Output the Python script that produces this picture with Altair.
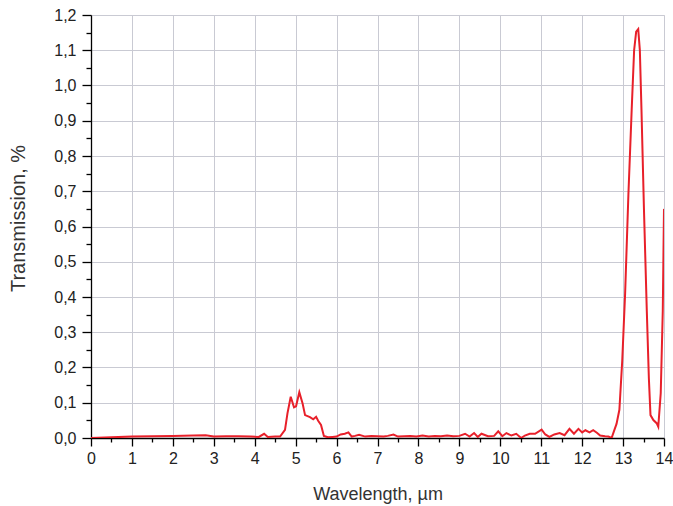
import altair as alt
import pandas as pd

wavelength = [0.0, 0.5, 1.0, 1.5, 2.0, 2.5, 2.8, 3.0, 3.3, 3.6, 3.9, 4.1, 4.23, 4.32, 4.5,
              4.62, 4.74, 4.80, 4.88, 4.96, 5.01, 5.09, 5.17, 5.23, 5.35, 5.43, 5.50, 5.55,
              5.62, 5.69, 5.79, 5.9, 6.0, 6.1, 6.2, 6.29, 6.37, 6.45, 6.55, 6.7, 6.85, 7.0,
              7.15, 7.25, 7.39, 7.5, 7.65, 7.8, 7.95, 8.1, 8.25, 8.4, 8.55, 8.7, 8.85, 9.0,
              9.14, 9.25, 9.36, 9.45, 9.54, 9.7, 9.85, 9.95, 10.05, 10.15, 10.27, 10.39,
              10.51, 10.6, 10.72, 10.85, 11.01, 11.1, 11.2, 11.32, 11.45, 11.57, 11.69,
              11.8, 11.91, 12.0, 12.08, 12.18, 12.27, 12.36, 12.44, 12.56, 12.64, 12.72,
              12.78, 12.84, 12.91, 12.98, 13.05, 13.13, 13.21, 13.27, 13.32, 13.37, 13.41,
              13.45, 13.51, 13.58, 13.63, 13.67, 13.74, 13.82, 13.86, 13.92, 13.97, 14.0]
transmission = [0.0, 0.002, 0.004, 0.005, 0.006, 0.007, 0.008, 0.004, 0.005, 0.005, 0.004,
                0.003, 0.012, 0.003, 0.004, 0.004, 0.023, 0.07, 0.117, 0.087, 0.09, 0.13,
                0.098, 0.065, 0.059, 0.053, 0.06, 0.049, 0.037, 0.006, 0.002, 0.003, 0.004,
                0.01, 0.012, 0.016, 0.004, 0.006, 0.009, 0.004, 0.006, 0.005, 0.004, 0.006,
                0.01, 0.004, 0.005, 0.006, 0.004, 0.007, 0.004, 0.006, 0.005, 0.007, 0.005,
                0.006, 0.012, 0.004, 0.014, 0.003, 0.012, 0.005, 0.006, 0.019, 0.005, 0.014,
                0.007, 0.012, 0.0, 0.007, 0.012, 0.012, 0.024, 0.01, 0.003, 0.01, 0.014,
                0.008, 0.026, 0.012, 0.026, 0.016, 0.022, 0.016, 0.022, 0.015, 0.007, 0.005,
                0.004, 0.0, 0.02, 0.04, 0.08, 0.22, 0.41, 0.69, 0.93, 1.10, 1.153, 1.16, 1.10,
                0.93, 0.65, 0.36, 0.17, 0.065, 0.051, 0.042, 0.032, 0.127, 0.36, 0.65]

x_ticks = [i * 0.5 for i in range(29)]
y_ticks = [round(i * 0.05, 2) for i in range(25)]

df = pd.DataFrame({"wl": wavelength, "t": transmission})

font = "Liberation Sans"
y_major = "abs(datum.value*10 - round(datum.value*10)) < 1e-6"

x_axis = alt.Axis(
    values=x_ticks,
    title="Wavelength, µm",
    labelExpr="datum.value % 1 === 0 ? format(datum.value, 'd') : ''",
    tickSize={"condition": {"test": "datum.value % 1 === 0", "value": 8}, "value": 4},
    gridOpacity={"condition": {"test": "datum.value % 1 === 0", "value": 1}, "value": 0},
    grid=True, gridColor="#c9cad3", gridWidth=1,
    domainColor="black", domainWidth=1.3, tickColor="black", tickWidth=1.3,
    labelFont=font, labelFontSize=16, labelColor="#222222", labelPadding=4,
    labelFlush=False,
    titleFont=font, titleFontSize=18, titleFontWeight="normal", titleColor="#333333",
    titleY=61, titleBaseline="alphabetic",
)
y_axis = alt.Axis(
    values=y_ticks,
    title="Transmission, %",
    labelExpr=f"{y_major} ? replace(format(datum.value, '.1f'), '.', ',') : ''",
    tickSize={"condition": {"test": y_major, "value": 9}, "value": 5},
    gridOpacity={"condition": {"test": y_major, "value": 1}, "value": 0},
    grid=True, gridColor="#c9cad3", gridWidth=1,
    domainColor="black", domainWidth=1.3, tickColor="black", tickWidth=1.3,
    labelFont=font, labelFontSize=16, labelColor="#222222", labelPadding=6,
    labelFlush=False,
    titleFont=font, titleFontSize=20, titleFontWeight="normal", titleColor="#333333",
    titleX=-67, titleY=203, titleBaseline="alphabetic",
)

chart = alt.Chart(df).mark_line(color="#e8202a", strokeWidth=2, clip=True).encode(
    x=alt.X("wl:Q", scale=alt.Scale(domain=[0, 14], nice=False, zero=False), axis=x_axis),
    y=alt.Y("t:Q", scale=alt.Scale(domain=[0, 1.2], nice=False), axis=y_axis),
).properties(
    width=573, height=423,
    autosize=alt.AutoSizeParams(type="none"),
    padding={"left": 91, "top": 15, "right": 9, "bottom": 68},
).configure_view(
    stroke="black", strokeWidth=1.3
).configure(background="white")

chart.save("out.html", embed_options={"renderer": "svg", "actions": False})
